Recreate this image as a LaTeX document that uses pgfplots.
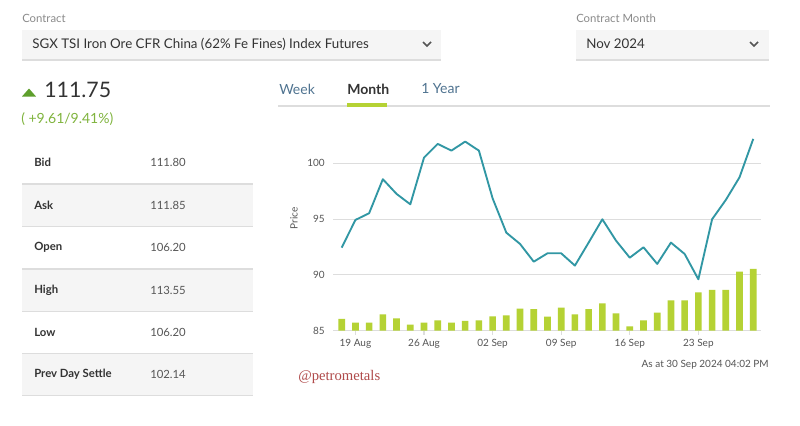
\documentclass[border=0pt]{standalone}
\usepackage{fontspec}
\setmainfont{Lato}
\newfontfamily\wmfont{Liberation Serif}
\usepackage{pgfplots}
\pgfplotsset{compat=1.18}

\definecolor{pricec}{HTML}{3197A4}
\definecolor{volc}{HTML}{B5D234}
\definecolor{upgreen}{HTML}{5E9F2C}
\definecolor{uptext}{HTML}{80B43E}
\definecolor{tabblue}{HTML}{4F7390}
\definecolor{boxfill}{HTML}{F5F5F5}
\definecolor{rulec}{HTML}{DDDDDD}
\definecolor{labgray}{HTML}{8A8A8A}
\definecolor{txt}{HTML}{333333}
\definecolor{valgray}{HTML}{555555}
\definecolor{wmred}{HTML}{B04A4A}

\newcommand{\fs}[1]{\fontsize{#1}{#1}\selectfont}

\begin{document}
\begin{tikzpicture}
% page frame and dashboard elements, in screen pixels (y down)
\begin{scope}[x=0.75pt,y=-0.75pt]
  \fill[white] (0,0) rectangle (800,425);

  % contract selectors
  \node[anchor=west,inner sep=0,text=labgray] at (22,18) {\fs{8.5}Contract};
  \fill[boxfill] (22,30) rectangle (441,59);
  \draw[rulec,line width=1.5] (22,59.5) -- (441,59.5);
  \node[anchor=west,inner sep=0,text=txt] at (32,44) {\fs{10}SGX TSI Iron Ore CFR China (62\% Fe Fines) Index Futures};
  \draw[valgray,line width=1.3] (423,42) -- (427,46) -- (431,42);

  \node[anchor=west,inner sep=0,text=labgray] at (576,18) {\fs{8.5}Contract Month};
  \fill[boxfill] (576,30) rectangle (769,59);
  \draw[rulec,line width=1.5] (576,59.5) -- (769,59.5);
  \node[anchor=west,inner sep=0,text=txt] at (586,44) {\fs{10}Nov 2024};
  \draw[valgray,line width=1.3] (750,42) -- (754,46) -- (758,42);

  % last price
  \fill[upgreen] (22,96.5) -- (36,96.5) -- (29,88.5) -- cycle;
  \node[anchor=west,inner sep=0,text=txt] at (44,90) {\fs{16}111.75};
  \node[anchor=west,inner sep=0,text=uptext] at (21,119) {\fs{10.5}( +9.61/9.41\%)};

  % quote table
  \fill[boxfill] (22,184) rectangle (253,226.7);
  \fill[boxfill] (22,269) rectangle (253,311.7);
  \fill[boxfill] (22,353.3) rectangle (253,395.7);
  \foreach \yy in {184,226.7,269,311.7,353.3,395.7}
    \draw[rulec,line width=1] (22,\yy) -- (253,\yy);
  \foreach \lab/\val/\yy in {Bid/111.80/162.5,Ask/111.85/205,Open/106.20/247.5,
      High/113.55/290,Low/106.20/332.5,Prev Day Settle/102.14/374.5}{
    \node[anchor=west,inner sep=0,text=txt] at (34,\yy) {\fs{8.5}\bfseries\lab};
    \node[anchor=west,inner sep=0,text=valgray] at (150,\yy) {\fs{8.5}\val};
  }

  % period tabs
  \node[anchor=west,inner sep=0,text=tabblue] at (279,89) {\fs{10.5}Week};
  \node[anchor=west,inner sep=0,text=txt] at (347,89) {\fs{10.5}\bfseries Month};
  \node[anchor=west,inner sep=0,text=tabblue] at (421,89) {\fs{10.5}1 Year};
  \draw[rulec,line width=1] (278,106) -- (770,106);
  \fill[volc] (347,103) rectangle (387,107);

  % footer texts
  \node[anchor=east,inner sep=0,text=valgray] at (769,365) {\fs{7.5}As at 30 Sep 2024 04:02 PM};
  \node[anchor=west,inner sep=0,text=wmred] at (298,377) {\wmfont\fs{11}@petrometals};
\end{scope}

\begin{axis}[
  at={(250.1pt,-248.0pt)}, anchor=south west,
  scale only axis, width=321pt, height=150.7pt,
  xmin=-0.6, xmax=30.6, ymin=85, ymax=103,
  axis line style={draw=none},
  ymajorgrids, grid style={rulec, line width=0.8pt},
  ytick={85,90,95,100},
  xtick={1,6,11,16,21,26},
  xticklabels={19 Aug,26 Aug,02 Sep,09 Sep,16 Sep,23 Sep},
  tick pos=left, tick align=outside,
  ytick style={draw=none},
  xtick style={draw=rulec, line width=0.8pt},
  major tick length=3pt,
  tick label style={font=\fs{7.5}, text=valgray},
  /pgf/number format/assume math mode=true,
  ylabel={Price},
  ylabel style={at={(axis description cs:-0.092,0.56)}, anchor=center, font=\fs{7.5}, text=valgray},
  clip=true,
]
% volume bars (heights read on the price scale)
\addplot[ybar, bar width=5pt, fill=volc, draw=none] coordinates {
(0,86.05) (1,85.72) (2,85.72) (3,86.47) (4,86.11) (5,85.54) (6,85.72) (7,85.93)
(8,85.72) (9,85.87) (10,85.93) (11,86.29) (12,86.38) (13,86.97) (14,86.92)
(15,86.25) (16,87.06) (17,86.47) (18,86.92) (19,87.45) (20,86.56) (21,85.39)
(22,85.93) (23,86.61) (24,87.72) (25,87.72) (26,88.44) (27,88.65) (28,88.65)
(29,90.29) (30,90.53)
};
% settlement price
\addplot[pricec, line width=1.4pt, line join=round, mark=none] coordinates {
(0,92.44) (1,94.92) (2,95.52) (3,98.57) (4,97.25) (5,96.32) (6,100.50) (7,101.73)
(8,101.13) (9,101.94) (10,101.13) (11,96.86) (12,93.78) (13,92.77) (14,91.18)
(15,91.93) (16,91.93) (17,90.83) (18,92.89) (19,94.98) (20,93.06) (21,91.54)
(22,92.47) (23,90.98) (24,92.89) (25,91.87) (26,89.60) (27,94.98) (28,96.71)
(29,98.74) (30,102.18)
};
\end{axis}
\end{tikzpicture}
\end{document}
